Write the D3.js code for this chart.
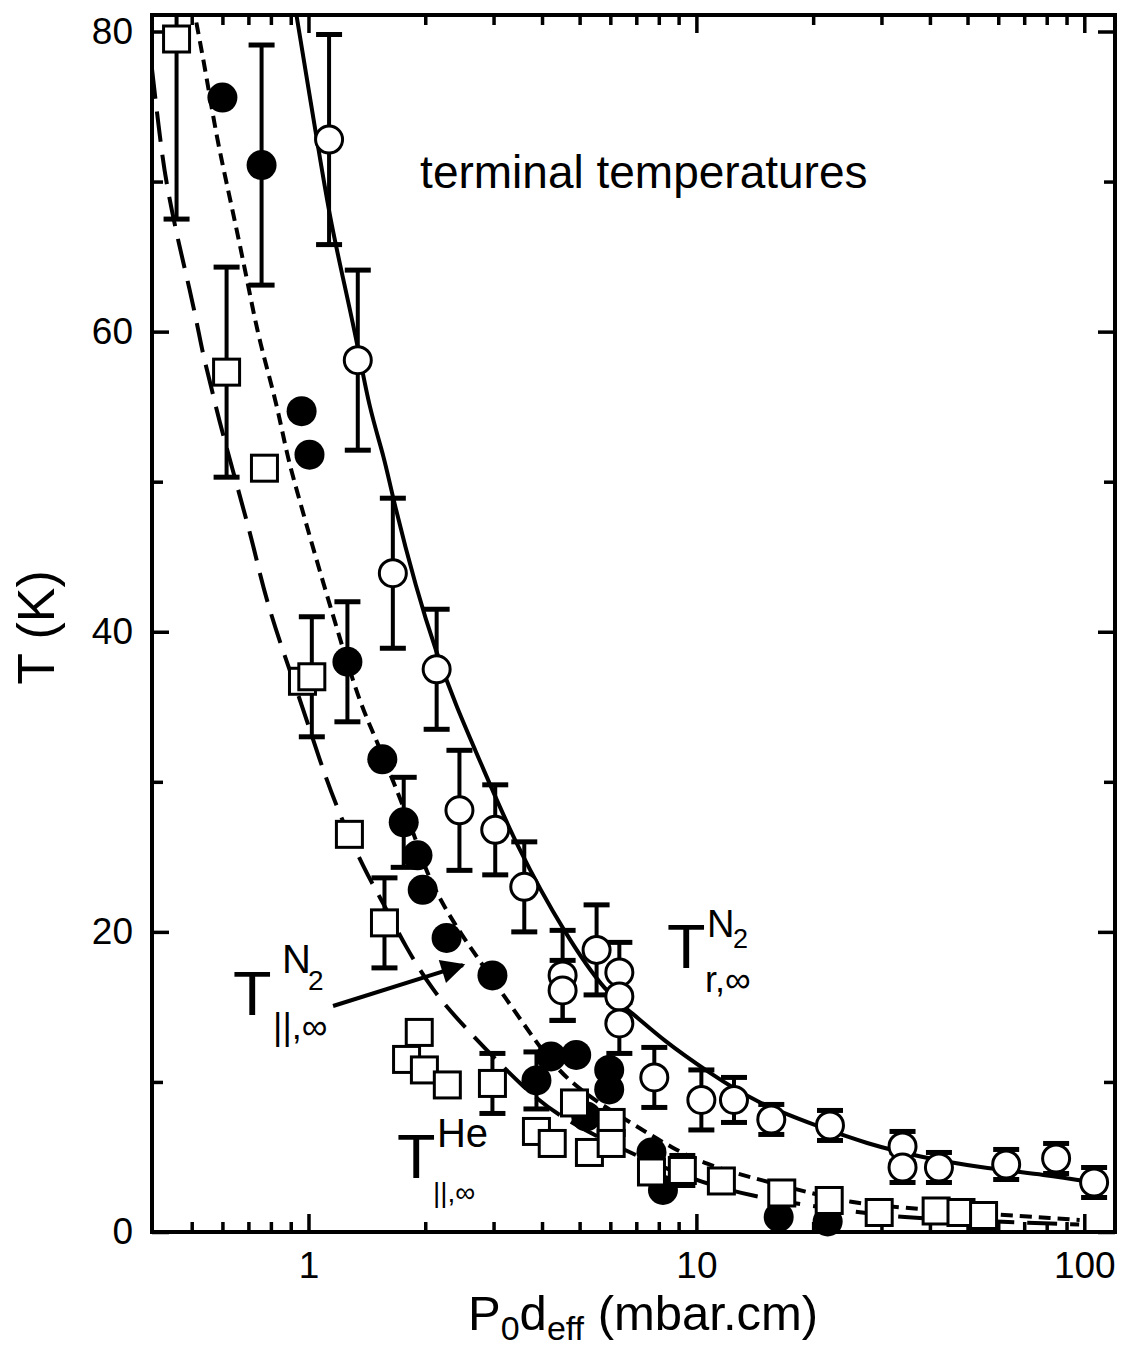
<!DOCTYPE html>
<html lang="en">
<head>
<meta charset="UTF-8">
<title>Terminal temperatures</title>
<script src="https://d3js.org/d3.v7.min.js"></script>
<style>
  body { margin: 0; background: #fff; }
  svg { font-family: "Liberation Sans", Arial, sans-serif; }
  .tick text { font-size: 37px; fill: #000; }
  .tick line { stroke: #000; stroke-width: 3.5px; }
  .domain { display: none; }
</style>
</head>
<body>
<svg id="chart" width="1131" height="1350"></svg>
<script>
// T_r,inf (N2) - open circles
const rotX   = [1.13, 1.34, 1.65, 2.14, 2.45, 3.03, 3.6, 4.52, 4.52, 5.53, 6.33, 6.33, 6.33, 7.79, 10.3, 12.5, 15.6, 22.1, 34, 34, 42.2, 62.9, 84.6, 106];
const rotT   = [72.8, 58.1, 43.9, 37.5, 28.1, 26.8, 23.0, 17.1, 16.1, 18.8, 17.3, 15.7, 13.9, 10.3, 8.8, 8.8, 7.5, 7.1, 5.7, 4.3, 4.3, 4.5, 4.9, 3.3];
const rotErr = [7, 6, 5, 4, 4, 3, 3, 3, 2, 3, 2, 0, 2, 2, 2, 1.5, 1, 1, 1, 1, 1, 1, 1, 1];

// T_par,inf (N2) - filled circles
const parX   = [0.60, 0.757, 0.96, 1.006, 1.26, 1.55, 1.76, 1.91, 1.97, 2.27, 2.98, 3.87, 4.22, 4.9, 5.96, 5.96, 5.2, 7.66, 8.2, 16.3, 21.8];
const parT   = [75.6, 71.1, 54.7, 51.8, 38.0, 31.5, 27.3, 25.1, 22.8, 19.6, 17.1, 10.1, 11.7, 11.8, 10.8, 9.5, 7.7, 5.3, 2.8, 1.0, 0.7];
const parErr = [0, 8, 0, 0, 4, 0, 3, 0, 0, 0, 0, 1.9, 0, 0, 0, 0, 0, 0, 0, 0, 0];

// T_par,inf (He) - open squares
const heX   = [0.457, 0.615, 0.77, 0.965, 1.02, 1.275, 1.57, 1.79, 1.93, 1.99, 2.28, 2.98, 3.87, 4.25, 4.85, 5.3, 6.03, 6.03, 7.66, 9.2, 11.6, 16.6, 22.0, 29.6, 41.5, 48.1, 55];
const heT   = [79.5, 57.3, 50.9, 36.7, 37.0, 26.5, 20.6, 11.5, 13.3, 10.8, 9.8, 9.9, 6.7, 5.9, 8.6, 5.3, 7.3, 5.9, 4.0, 4.1, 3.4, 2.6, 2.1, 1.3, 1.4, 1.3, 1.1];
const heErr = [12, 7, 0, 0, 4, 0, 3, 0, 0, 0, 0, 2, 0, 0, 0, 0, 0, 0, 0, 1, 0, 0.6, 0, 0, 0, 0, 0];

// fitted curves
const rotFitX = [0.931, 1.048, 1.133, 1.224, 1.33, 1.436, 1.57, 1.646, 1.898, 2.136, 2.405, 2.757, 3.434, 4.62, 5.86, 6.84, 8.18, 10.79, 14.3, 20.78, 27.37, 37.6, 53.7, 79.9, 106];
const rotFitT = [81.1, 73.0, 67.7, 63.7, 59.5, 54.8, 51.6, 49.0, 42.8, 38.6, 35.0, 31.5, 25.7, 19.7, 15.9, 14.6, 12.8, 10.6, 8.6, 7.0, 5.9, 5.0, 4.3, 3.8, 3.3];

const parFitX = [0.514, 0.546, 0.579, 0.626, 0.664, 0.705, 0.748, 0.827, 0.878, 0.931, 1.048, 1.181, 1.353, 1.497, 1.716, 1.898, 2.014, 2.309, 2.757, 3.24, 3.714, 4.62, 7.06, 8.65, 10.6, 13.5, 20.4, 24.6, 33.3, 97.3];
const parFitT = [80.6, 77.0, 73.0, 69.0, 65.9, 62.6, 59.3, 55.3, 51.9, 49.5, 44.8, 40.3, 35.3, 32.8, 29.0, 26.1, 23.9, 21.0, 18.1, 15.5, 13.3, 9.9, 7.0, 5.6, 4.5, 3.7, 2.5, 2.0, 1.6, 0.8];

const heFitX = [0.395, 0.42, 0.437, 0.459, 0.485, 0.514, 0.533, 0.562, 0.59, 0.713, 0.748, 0.793, 0.852, 0.965, 1.067, 1.181, 1.394, 1.57, 1.778, 2.09, 2.45, 3.67, 4.65, 8.5, 13.7, 26.3, 35.5, 97];
const heFitT = [77.5, 71.5, 69.0, 66.3, 63.7, 60.8, 58.6, 56.3, 53.9, 46.3, 43.9, 41.5, 39.0, 35.0, 31.5, 28.3, 24.1, 21.8, 19.0, 16.1, 14.0, 9.3, 7.3, 4.0, 2.3, 1.3, 0.9, 0.5];

// axis ticks
const xMajor = [1, 10, 100];
const xMinor = [0.5, 0.6, 0.7, 0.8, 0.9, 2, 3, 4, 5, 6, 7, 8, 9, 20, 30, 40, 50, 60, 70, 80, 90];
const yMajor = [0, 20, 40, 60, 80];
const yMinor = [10, 30, 50, 70];

const svg = d3.select("#chart");
const pLeft = 152, pRight = 1115, pTop = 15, pBottom = 1232;

const x = d3.scaleLog().domain([0.395, 120]).range([pLeft, pRight]);
const y = d3.scaleLinear().domain([0, 81.1]).range([pBottom, pTop]);

svg.append("clipPath").attr("id", "plotClip")
  .append("rect")
  .attr("x", pLeft).attr("y", pTop)
  .attr("width", pRight - pLeft).attr("height", pBottom - pTop);

// axes, ticks pointing inwards
svg.append("g").attr("transform", `translate(0,${pBottom})`)
  .call(d3.axisBottom(x).tickValues(xMajor).tickSize(-18).tickPadding(20).tickFormat(d3.format("d")));
svg.append("g").attr("transform", `translate(0,${pBottom})`)
  .call(d3.axisBottom(x).tickValues(xMinor).tickSize(-10).tickFormat(""));
svg.append("g").attr("transform", `translate(0,${pTop})`)
  .call(d3.axisTop(x).tickValues(xMajor).tickSize(-18).tickFormat(""));
svg.append("g").attr("transform", `translate(0,${pTop})`)
  .call(d3.axisTop(x).tickValues(xMinor).tickSize(-10).tickFormat(""));

svg.append("g").attr("transform", `translate(${pLeft},0)`)
  .call(d3.axisLeft(y).tickValues(yMajor).tickSize(-17).tickPadding(19));
svg.append("g").attr("transform", `translate(${pLeft},0)`)
  .call(d3.axisLeft(y).tickValues(yMinor).tickSize(-11).tickFormat(""));
svg.append("g").attr("transform", `translate(${pRight},0)`)
  .call(d3.axisRight(y).tickValues(yMajor).tickSize(-17).tickFormat(""));
svg.append("g").attr("transform", `translate(${pRight},0)`)
  .call(d3.axisRight(y).tickValues(yMinor).tickSize(-11).tickFormat(""));

// curves
const plot = svg.append("g").attr("clip-path", "url(#plotClip)");
const line = d3.line().x(d => x(d[0])).y(d => y(d[1])).curve(d3.curveBasis);

plot.append("path").datum(d3.zip(rotFitX, rotFitT))
  .attr("d", line).attr("fill", "none").attr("stroke", "#000").attr("stroke-width", 4);
plot.append("path").datum(d3.zip(parFitX, parFitT))
  .attr("d", line).attr("fill", "none").attr("stroke", "#000").attr("stroke-width", 4)
  .attr("stroke-dasharray", "12,7");
plot.append("path").datum(d3.zip(heFitX, heFitT))
  .attr("d", line).attr("fill", "none").attr("stroke", "#000").attr("stroke-width", 4)
  .attr("stroke-dasharray", "30,13");

// error bars
function errorBars(xs, ts, es) {
  const pts = d3.zip(xs, ts, es).filter(d => d[2] > 0);
  const g = plot.append("g").attr("stroke", "#000").attr("stroke-width", 4);
  pts.forEach(d => {
    const cx = x(d[0]), y1 = y(d[1] + d[2]), y2 = y(d[1] - d[2]);
    g.append("line").attr("x1", cx).attr("x2", cx).attr("y1", y1).attr("y2", y2);
    g.append("line").attr("x1", cx - 13).attr("x2", cx + 13).attr("y1", y1).attr("y2", y1).attr("stroke-width", 5);
    g.append("line").attr("x1", cx - 13).attr("x2", cx + 13).attr("y1", y2).attr("y2", y2).attr("stroke-width", 5);
  });
}
errorBars(rotX, rotT, rotErr);
errorBars(parX, parT, parErr);
errorBars(heX, heT, heErr);

// markers
svg.append("g").selectAll("circle")
  .data(d3.zip(rotX, rotT)).join("circle")
  .attr("cx", d => x(d[0])).attr("cy", d => y(d[1])).attr("r", 13.5)
  .attr("fill", "#fff").attr("stroke", "#000").attr("stroke-width", 3);

svg.append("g").selectAll("circle")
  .data(d3.zip(parX, parT)).join("circle")
  .attr("cx", d => x(d[0])).attr("cy", d => y(d[1])).attr("r", 15)
  .attr("fill", "#000");

svg.append("g").selectAll("rect")
  .data(d3.zip(heX, heT)).join("rect")
  .attr("x", d => x(d[0]) - 13).attr("y", d => y(d[1]) - 13)
  .attr("width", 26).attr("height", 26)
  .attr("fill", "#fff").attr("stroke", "#000").attr("stroke-width", 3);

// frame
svg.append("rect")
  .attr("x", pLeft).attr("y", pTop)
  .attr("width", pRight - pLeft).attr("height", pBottom - pTop)
  .attr("fill", "none").attr("stroke", "#000").attr("stroke-width", 4);

// axis titles
svg.append("text")
  .attr("transform", `translate(54,${(pTop + pBottom) / 2 + 4}) rotate(-90)`)
  .attr("text-anchor", "middle").attr("font-size", 52)
  .text("T (K)");

const xt = svg.append("text").attr("x", 468).attr("y", 1330).attr("font-size", 49);
xt.append("tspan").text("P");
xt.append("tspan").attr("font-size", 34).attr("dy", 10).text("0");
xt.append("tspan").attr("dy", -10).text("d");
xt.append("tspan").attr("font-size", 34).attr("dy", 10).text("eff");
xt.append("tspan").attr("dy", -10).text(" (mbar.cm)");

svg.append("text")
  .attr("x", x(1.94)).attr("y", y(69.57))
  .attr("font-size", 46).text("terminal temperatures");

// symbol labels: T with superscript and subscript
function symbol(px, py, sup, supOff, sub2, sub2Off, sub, subOff) {
  const g = svg.append("g").attr("transform", `translate(${x(px)},${y(py)})`);
  g.append("text").attr("font-size", 63).text("T");
  g.append("text").attr("x", supOff[0]).attr("y", supOff[1]).attr("font-size", supOff[2]).text(sup);
  if (sub2) g.append("text").attr("x", sub2Off[0]).attr("y", sub2Off[1]).attr("font-size", sub2Off[2]).text(sub2);
  g.append("text").attr("x", subOff[0]).attr("y", subOff[1]).attr("font-size", subOff[2]).text(sub);
}
symbol(0.639, 14.46, "N", [49, -42, 40], "2", [75, -25, 28], "||,\u221E", [40, 24, 36]);
symbol(8.40, 17.59, "N", [40, -31, 38], "2", [66, -20, 27], "r,\u221E", [38, 24, 36]);
symbol(1.691, 3.60, "He", [40, -31, 40], null, null, "||,\u221E", [36, 24, 28]);

// arrow
svg.append("defs").append("marker")
  .attr("id", "head").attr("viewBox", "0 0 10 10")
  .attr("refX", 9).attr("refY", 5)
  .attr("markerWidth", 7).attr("markerHeight", 6)
  .attr("markerUnits", "strokeWidth")
  .attr("orient", "auto")
  .append("path").attr("d", "M0,0 L10,5 L0,10 Z").attr("fill", "#000");

svg.append("line")
  .attr("x1", x(1.157)).attr("y1", y(15.06))
  .attr("x2", x(2.502)).attr("y2", y(17.79))
  .attr("stroke", "#000").attr("stroke-width", 4)
  .attr("marker-end", "url(#head)");
</script>
</body>
</html>
